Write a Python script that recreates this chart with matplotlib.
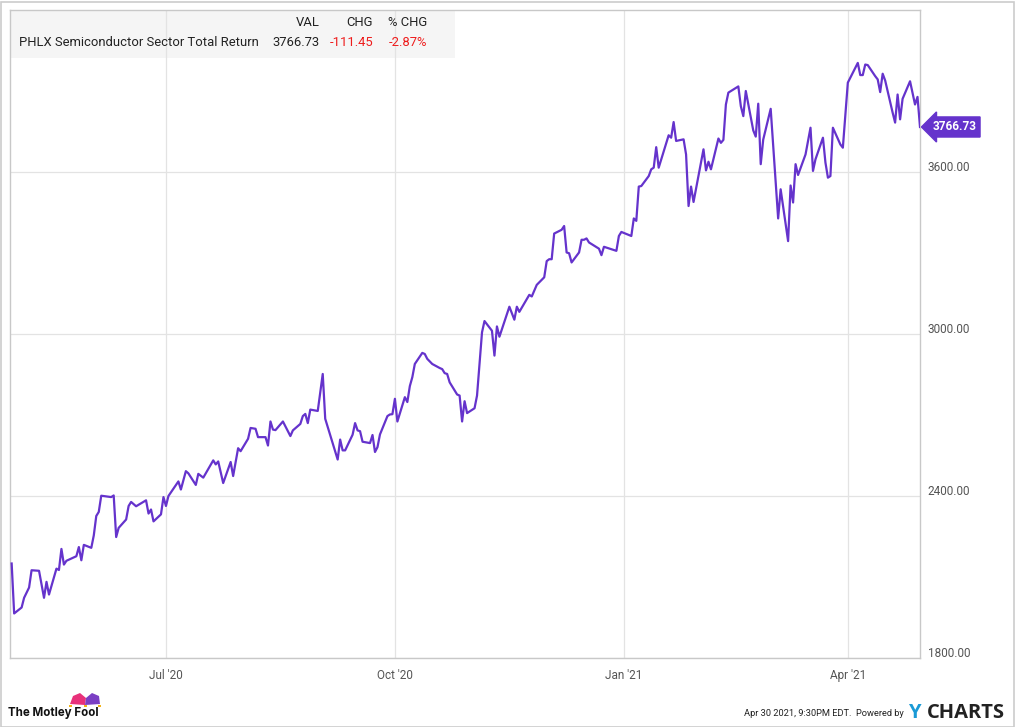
import pandas as pd
import matplotlib.pyplot as plt
import matplotlib.dates as mdates
from matplotlib.patches import Rectangle, Polygon

plt.rcParams['font.family'] = ['Roboto', 'DejaVu Sans']

# PHLX Semiconductor Sector Total Return
dates = [
    '2020-04-30', '2020-05-01', '2020-05-04', '2020-05-05', '2020-05-07', '2020-05-08',
    '2020-05-11', '2020-05-13', '2020-05-14', '2020-05-15', '2020-05-18', '2020-05-19',
    '2020-05-20', '2020-05-21', '2020-05-22', '2020-05-26', '2020-05-27', '2020-05-28',
    '2020-05-29', '2020-06-01', '2020-06-02', '2020-06-03', '2020-06-04', '2020-06-05',
    '2020-06-09', '2020-06-10', '2020-06-11', '2020-06-12', '2020-06-15', '2020-06-16',
    '2020-06-17', '2020-06-19', '2020-06-23', '2020-06-24', '2020-06-25', '2020-06-26',
    '2020-06-29', '2020-06-30', '2020-07-01', '2020-07-02', '2020-07-06', '2020-07-07',
    '2020-07-09', '2020-07-10', '2020-07-13', '2020-07-14', '2020-07-16', '2020-07-20',
    '2020-07-21', '2020-07-22', '2020-07-24', '2020-07-27', '2020-07-28', '2020-07-30',
    '2020-07-31', '2020-08-03', '2020-08-04', '2020-08-06', '2020-08-07', '2020-08-10',
    '2020-08-11', '2020-08-12', '2020-08-13', '2020-08-14', '2020-08-17', '2020-08-20',
    '2020-08-21', '2020-08-24', '2020-08-25', '2020-08-26', '2020-08-27', '2020-08-28',
    '2020-08-31', '2020-09-02', '2020-09-03', '2020-09-08', '2020-09-09', '2020-09-10',
    '2020-09-11', '2020-09-14', '2020-09-15', '2020-09-16', '2020-09-17', '2020-09-18',
    '2020-09-21', '2020-09-22', '2020-09-23', '2020-09-24', '2020-09-25', '2020-09-28',
    '2020-09-29', '2020-09-30', '2020-10-01', '2020-10-02', '2020-10-05', '2020-10-06',
    '2020-10-07', '2020-10-08', '2020-10-09', '2020-10-12', '2020-10-13', '2020-10-14',
    '2020-10-16', '2020-10-19', '2020-10-20', '2020-10-21', '2020-10-22', '2020-10-23',
    '2020-10-26', '2020-10-27', '2020-10-28', '2020-10-29', '2020-10-30', '2020-11-02',
    '2020-11-03', '2020-11-05', '2020-11-06', '2020-11-09', '2020-11-10', '2020-11-11',
    '2020-11-12', '2020-11-16', '2020-11-18', '2020-11-19', '2020-11-20', '2020-11-24',
    '2020-11-25', '2020-11-27', '2020-11-30', '2020-12-01', '2020-12-02', '2020-12-03',
    '2020-12-04', '2020-12-07', '2020-12-08', '2020-12-09', '2020-12-10', '2020-12-11',
    '2020-12-14', '2020-12-15', '2020-12-16', '2020-12-17', '2020-12-18', '2020-12-22',
    '2020-12-23', '2020-12-24', '2020-12-29', '2020-12-30', '2020-12-31', '2021-01-04',
    '2021-01-05', '2021-01-06', '2021-01-07', '2021-01-08', '2021-01-11', '2021-01-12',
    '2021-01-13', '2021-01-14', '2021-01-15', '2021-01-19', '2021-01-20', '2021-01-21',
    '2021-01-22', '2021-01-25', '2021-01-26', '2021-01-27', '2021-01-28', '2021-01-29',
    '2021-02-02', '2021-02-03', '2021-02-04', '2021-02-05', '2021-02-08', '2021-02-09',
    '2021-02-10', '2021-02-11', '2021-02-12', '2021-02-16', '2021-02-17', '2021-02-18',
    '2021-02-19', '2021-02-22', '2021-02-23', '2021-02-24', '2021-02-25', '2021-02-26',
    '2021-03-01', '2021-03-04', '2021-03-05', '2021-03-08', '2021-03-09', '2021-03-10',
    '2021-03-11', '2021-03-12', '2021-03-15', '2021-03-17', '2021-03-18', '2021-03-19',
    '2021-03-22', '2021-03-23', '2021-03-24', '2021-03-25', '2021-03-26', '2021-03-29',
    '2021-03-30', '2021-03-31', '2021-04-01', '2021-04-05', '2021-04-06', '2021-04-07',
    '2021-04-08', '2021-04-09', '2021-04-12', '2021-04-13', '2021-04-14', '2021-04-15',
    '2021-04-16', '2021-04-19', '2021-04-20', '2021-04-21', '2021-04-22', '2021-04-23',
    '2021-04-26', '2021-04-28', '2021-04-29', '2021-04-30',
]
values = [
    2150, 1965, 1987, 2023, 2061, 2125,
    2123, 2023, 2082, 2035, 2131, 2126,
    2204, 2146, 2160, 2177, 2211, 2162,
    2219, 2208, 2254, 2326, 2341, 2401,
    2396, 2402, 2248, 2282, 2313, 2363,
    2378, 2362, 2384, 2335, 2350, 2306,
    2332, 2396, 2363, 2400, 2454, 2424,
    2492, 2484, 2441, 2482, 2468, 2532,
    2517, 2528, 2448, 2526, 2474, 2577,
    2566, 2612, 2652, 2649, 2618, 2618,
    2587, 2676, 2646, 2644, 2676, 2622,
    2643, 2667, 2696, 2704, 2670, 2720,
    2715, 2852, 2686, 2535, 2609, 2569,
    2569, 2627, 2670, 2643, 2640, 2601,
    2596, 2626, 2563, 2581, 2628, 2696,
    2702, 2703, 2760, 2676, 2766, 2748,
    2807, 2840, 2889, 2930, 2926, 2908,
    2889, 2874, 2870, 2855, 2852, 2821,
    2776, 2772, 2676, 2751, 2707, 2725,
    2772, 3006, 3048, 3012, 2920, 3028,
    2990, 3101, 3053, 3101, 3082, 3145,
    3139, 3182, 3210, 3270, 3277, 3277,
    3372, 3386, 3400, 3302, 3299, 3265,
    3302, 3349, 3349, 3354, 3339, 3316,
    3292, 3323, 3308, 3363, 3378, 3363,
    3428, 3419, 3546, 3548, 3585, 3610,
    3616, 3692, 3616, 3736, 3727, 3785,
    3715, 3721, 3665, 3474, 3546, 3489,
    3684, 3606, 3638, 3610, 3724, 3708,
    3719, 3850, 3894, 3917, 3844, 3807,
    3900, 3754, 3731, 3853, 3629, 3720,
    3834, 3428, 3536, 3344, 3550, 3487,
    3629, 3589, 3665, 3764, 3604, 3647,
    3727, 3635, 3579, 3585, 3764, 3702,
    3690, 3813, 3931, 4004, 3959, 3959,
    3998, 3996, 3955, 3943, 3896, 3964,
    3939, 3820, 3783, 3887, 3795, 3871,
    3936, 3850, 3878.18, 3766.73,
]

y_ticks = [1800, 2400, 3000, 3600]
x_ticks = ['2020-07-01', '2020-10-01', '2021-01-01', '2021-04-01']
x_labels = ["Jul '20", "Oct '20", "Jan '21", "Apr '21"]

series_name = 'PHLX Semiconductor Sector Total Return'
last_val = '3766.73'
last_chg = '-111.45'
last_pct = '-2.87%'

x = pd.to_datetime(dates)

fig = plt.figure(figsize=(10.15, 7.27), dpi=100)
ax = fig.add_axes([10 / 1015, 69 / 727, 910 / 1015, 648 / 727])

line_color = '#6533cc'
grid_color = '#e3e3e3'
text_gray = '#555555'

ax.plot(x, values, color=line_color, linewidth=1.6, zorder=3, solid_joinstyle='round')

ax.set_xlim(pd.Timestamp('2020-04-29 08:00'), pd.Timestamp('2021-04-30'))
ax.set_ylim(1800, 4200)

ax.set_yticks(y_ticks)
ax.set_xticks(pd.to_datetime(x_ticks))
ax.set_xticklabels([])
ax.set_yticklabels([])
ax.tick_params(length=0)
ax.grid(True, color=grid_color, linewidth=0.9, zorder=0)
for s in ax.spines.values():
    s.set_color('#c8c8c8')
    s.set_linewidth(1.0)

# y labels sit just above their gridlines, to the right of the plot
for v in y_ticks:
    ax.annotate(f'{v:.2f}', xy=(1, v), xycoords=('axes fraction', 'data'),
                xytext=(5.5, -1.5), textcoords='offset points',
                ha='left', va='bottom', fontsize=8.5, color=text_gray)

for d, lab in zip(pd.to_datetime(x_ticks), x_labels):
    ax.annotate(lab, xy=(d, 0), xycoords=('data', 'axes fraction'),
                xytext=(0, -8), textcoords='offset points',
                ha='center', va='top', fontsize=8.5, color=text_gray)

# last value tag
ax.annotate(last_val, xy=(1, values[-1]), xycoords=('axes fraction', 'data'),
            xytext=(9, 0), textcoords='offset points',
            ha='left', va='center', fontsize=8.5, fontweight='bold', color='white',
            bbox=dict(boxstyle='larrow,pad=0.3', fc=line_color, ec=line_color))

# legend table in the top-left corner
ax.add_patch(Rectangle((0, 1 - 48 / 648), 445 / 910, 48 / 648, transform=ax.transAxes,
                       facecolor='#f3f3f3', edgecolor='none', alpha=0.8, zorder=1))
hdr_y = 1 - 13 / 648
row_y = 1 - 32 / 648
for xr, t in [(310, 'VAL'), (363, 'CHG'), (417, '% CHG')]:
    ax.text(xr / 910, hdr_y, t, transform=ax.transAxes, ha='right', va='center',
            fontsize=9.4, color='#222222', zorder=4)
ax.text(9 / 910, row_y, series_name, transform=ax.transAxes, ha='left', va='center',
        fontsize=9.4, color='#222222', zorder=4)
ax.text(310 / 910, row_y, last_val, transform=ax.transAxes, ha='right', va='center',
        fontsize=9.4, color='#222222', zorder=4)
ax.text(363 / 910, row_y, last_chg, transform=ax.transAxes, ha='right', va='center',
        fontsize=9.4, color='#ee1c1c', zorder=4)
ax.text(417 / 910, row_y, last_pct, transform=ax.transAxes, ha='right', va='center',
        fontsize=9.4, color='#ee1c1c', zorder=4)

# outer frame of the image
fig.patches.append(Rectangle((0.5 / 1015, 0.5 / 727), 1013 / 1015, 725 / 727,
                             transform=fig.transFigure, fill=False,
                             edgecolor='#cccccc', linewidth=1.2))

# footer: Motley Fool logo and YCharts credit
fig.text(8 / 1015, 1 - 713 / 727, 'The Motley Fool', ha='left', va='center',
         fontsize=8.3, fontweight='bold', color='#111111', family=['Inter', 'DejaVu Sans'])
fig.patches.append(Polygon([(70 / 1015, 1 - 704 / 727), (73 / 1015, 1 - 696 / 727),
                            (80 / 1015, 1 - 693 / 727), (86 / 1015, 1 - 698 / 727),
                            (85 / 1015, 1 - 705 / 727)], closed=True,
                           transform=fig.transFigure, facecolor='#e8317a', edgecolor='none'))
fig.patches.append(Polygon([(85 / 1015, 1 - 705 / 727), (86 / 1015, 1 - 698 / 727),
                            (92 / 1015, 1 - 693 / 727), (99 / 1015, 1 - 696 / 727),
                            (100 / 1015, 1 - 704 / 727)], closed=True,
                           transform=fig.transFigure, facecolor='#7b3fc4', edgecolor='none'))
for px in (70.5, 85.5, 99.5):
    fig.patches.append(Rectangle((px / 1015 - 0.001, 1 - 707 / 727), 0.002, 0.003,
                                 transform=fig.transFigure, facecolor='#f2b418',
                                 edgecolor='none'))

fig.text(904 / 1015, 1 - 714 / 727, 'Apr 30 2021, 9:30PM EDT.  Powered by',
         ha='right', va='center', fontsize=6.7, color='#222222')
fig.text(908 / 1015, 1 - 713 / 727, 'Y', ha='left', va='center', fontsize=14.5,
         fontweight='bold', color='#1a9ad6', family=['Open Sans', 'DejaVu Sans'])
fig.text(927 / 1015, 1 - 713 / 727, 'CHARTS', ha='left', va='center', fontsize=14.5,
         fontweight='bold', color='#222222', family=['Open Sans', 'DejaVu Sans'])

fig.savefig('out.png', dpi=100, facecolor='white')
